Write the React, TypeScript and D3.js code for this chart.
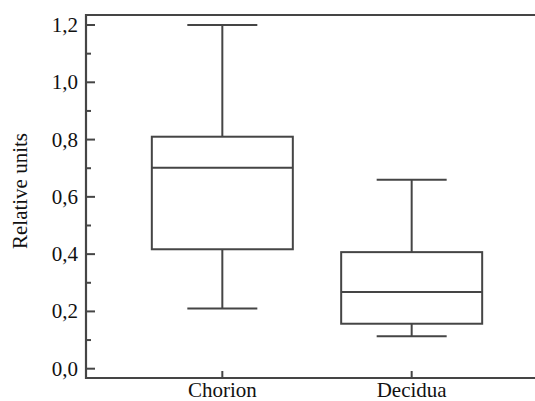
import React, { useRef, useEffect } from 'react';
import * as d3 from 'd3';

const categories = ['Chorion', 'Decidua'];
const whiskerLow = [0.21, 0.113];
const q1 = [0.417, 0.157];
const medians = [0.702, 0.268];
const q3 = [0.81, 0.407];
const whiskerHigh = [1.2, 0.66];
const yTicks = [0, 0.2, 0.4, 0.6, 0.8, 1.0, 1.2];
const yMinorTicks = [0.1, 0.3, 0.5, 0.7, 0.9, 1.1];

function App() {
  const ref = useRef<SVGSVGElement>(null);

  useEffect(() => {
    const width = 535;
    const height = 401;
    const left = 86;
    const right = 548;
    const top = 15;
    const bottom = 378;
    const stroke = '#454545';

    const svg = d3.select(ref.current);
    svg.selectAll('*').remove();
    svg.attr('width', width).attr('height', height);

    const x = d3.scalePoint<string>().domain(categories).range([left, right]).padding(0.72);
    const y = d3.scaleLinear().domain([-0.0325, 1.235]).range([bottom, top]);

    const boxW = 141;
    const capW = 70;

    const data = categories.map((c, i) => ({
      c,
      lo: whiskerLow[i],
      q1: q1[i],
      med: medians[i],
      q3: q3[i],
      hi: whiskerHigh[i],
    }));

    const g = svg.append('g').attr('fill', 'none').attr('stroke', stroke).attr('stroke-width', 2);

    data.forEach((d) => {
      const cx = x(d.c)!;
      // whiskers
      g.append('line').attr('x1', cx).attr('x2', cx).attr('y1', y(d.hi)).attr('y2', y(d.q3));
      g.append('line').attr('x1', cx).attr('x2', cx).attr('y1', y(d.q1)).attr('y2', y(d.lo));
      g.append('line').attr('x1', cx - capW / 2).attr('x2', cx + capW / 2).attr('y1', y(d.hi)).attr('y2', y(d.hi));
      g.append('line').attr('x1', cx - capW / 2).attr('x2', cx + capW / 2).attr('y1', y(d.lo)).attr('y2', y(d.lo));
      // box
      g.append('rect')
        .attr('x', cx - boxW / 2)
        .attr('y', y(d.q3))
        .attr('width', boxW)
        .attr('height', y(d.q1) - y(d.q3));
      g.append('line').attr('x1', cx - boxW / 2).attr('x2', cx + boxW / 2).attr('y1', y(d.med)).attr('y2', y(d.med));
    });

    // frame
    svg.append('path')
      .attr('d', `M${right},${top}H${left}V${bottom}H${right}`)
      .attr('fill', 'none')
      .attr('stroke', stroke)
      .attr('stroke-width', 2.2);

    const txt = svg.append('g').attr('class', 'txt').attr('fill', '#111');

    // y ticks
    yTicks.forEach((t) => {
      svg.append('line').attr('x1', left).attr('x2', left + 9).attr('y1', y(t)).attr('y2', y(t))
        .attr('stroke', stroke).attr('stroke-width', 2);
      txt.append('text')
        .attr('x', 78)
        .attr('y', y(t))
        .attr('dy', '0.33em')
        .attr('text-anchor', 'end')
        .text(d3.format('.1f')(t).replace('.', ','));
    });
    yMinorTicks.forEach((t) => {
      svg.append('line').attr('x1', left).attr('x2', left + 5).attr('y1', y(t)).attr('y2', y(t))
        .attr('stroke', stroke).attr('stroke-width', 2);
    });

    // x ticks
    categories.forEach((c) => {
      svg.append('line').attr('x1', x(c)!).attr('x2', x(c)!).attr('y1', bottom).attr('y2', bottom - 7)
        .attr('stroke', stroke).attr('stroke-width', 2);
      txt.append('text')
        .attr('x', x(c)!)
        .attr('y', 397)
        .attr('text-anchor', 'middle')
        .text(c);
    });

    txt.append('text')
      .attr('transform', `translate(27,191) rotate(-90)`)
      .attr('text-anchor', 'middle')
      .text('Relative units');
  }, []);

  return (
    <svg
      ref={ref}
      style={{
        position: 'absolute',
        left: 0,
        top: 0,
        background: '#fff',
        display: 'block',
        fontFamily: "'Liberation Serif', 'DejaVu Serif', serif",
        fontSize: 21,
      }}
    />
  );
}

export default App;
